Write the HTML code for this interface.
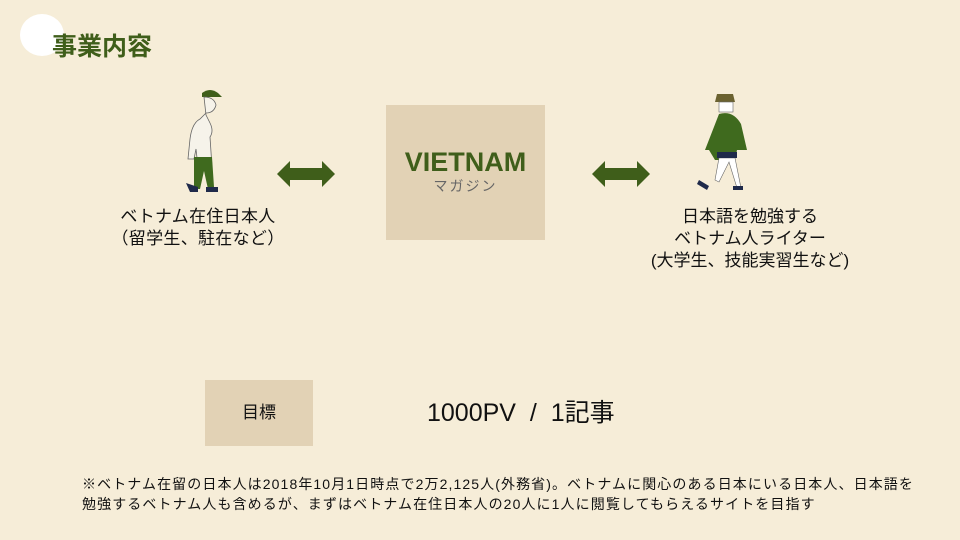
<!DOCTYPE html>
<html><head><meta charset="utf-8"><style>
body{margin:0}
#p{position:relative;width:960px;height:540px;background:#f6edd8;overflow:hidden;font-family:"Liberation Sans","Noto Sans CJK JP",sans-serif;color:#111}
.a{position:absolute}
.c{text-align:center;font-size:17px;line-height:22px}
</style></head><body><div id="p">
<div class="a" style="left:20px;top:14px;width:44px;height:42px;border-radius:50%;background:#fff"></div>
<div class="a" style="left:52px;top:31px;font-size:25px;font-weight:bold;color:#3f5e1a;line-height:32px">事業内容</div>

<svg class="a" style="left:180px;top:85px" width="50" height="115" viewBox="0 0 50 115">
<path d="M22 8 q8-6 16 0 l4 4 h-20z" fill="#3f5e1a"/>
<path d="M24 12 q10 0 12 8 q-2 8-10 8 l-6 6 q-8 4-10 20 l-2 20 h6 l2 -10 l2 18 h14 l-2-30 q4-6 0-14 l-4-8z" fill="#f6f3ea" stroke="#666" stroke-width="0.8"/>
<path d="M14 72 h18 l2 30 l-6 2 l-4-18 l-4 18 h-6z" fill="#3f6a1e"/>
<path d="M6 98 l12 4 v5 h-8z M26 102 h12 v5 h-12z" fill="#1f2a4a"/>
</svg>

<svg class="a" style="left:695px;top:88px" width="60" height="105" viewBox="0 0 60 105">
<path d="M22 6 h16 l2 8 h-20z" fill="#6b6230"/>
<rect x="24" y="14" width="14" height="10" fill="#fff" stroke="#666" stroke-width="0.6"/>
<path d="M24 26 q14-4 22 10 l6 26 h-10 l-2 10 h-20 l-6-10 h-4z" fill="#3f6a1e"/>
<path d="M24 70 h16 l6 30 h-4 l-8-26 l-10 20 l-4-2z" fill="#fff" stroke="#666" stroke-width="0.6"/>
<rect x="22" y="64" width="20" height="6" fill="#1f2a4a"/>
<path d="M4 92 l10 6 l-2 4 l-10-6z M38 98 h10 v4 h-10z" fill="#1f2a4a"/>
</svg>

<svg class="a" style="left:276px;top:160px" width="60" height="28" viewBox="0 0 60 28"><polygon points="1,14 14,1 14,8 46,8 46,1 59,14 46,27 46,20 14,20 14,27" fill="#3f5e1a"/></svg>
<svg class="a" style="left:591px;top:160px" width="60" height="28" viewBox="0 0 60 28"><polygon points="1,14 14,1 14,8 46,8 46,1 59,14 46,27 46,20 14,20 14,27" fill="#3f5e1a"/></svg>

<div class="a" style="left:386px;top:105px;width:159px;height:135px;background:#e2d2b5"></div>
<div class="a" style="left:386px;top:147px;width:159px;text-align:center;font-size:27px;font-weight:bold;color:#3f5e1a;line-height:30px">VIETNAM</div>
<div class="a" style="left:386px;top:177px;width:159px;text-align:center;font-size:14px;color:#666;line-height:18px;letter-spacing:2px">マガジン</div>

<div class="a c" style="left:98px;top:206px;width:200px;letter-spacing:0.3px">ベトナム在住日本人<br>（留学生、駐在など）</div>
<div class="a c" style="left:630px;top:206px;width:240px">日本語を勉強する<br>ベトナム人ライター<br>(大学生、技能実習生など)</div>

<div class="a" style="left:205px;top:380px;width:108px;height:66px;background:#e2d2b5;font-size:17px;line-height:66px;text-align:center">目標</div>
<div class="a" style="left:427px;top:397px;font-size:25px;line-height:32px">1000PV &nbsp;/ &nbsp;1記事</div>

<div class="a" style="left:82px;top:474px;font-size:14px;line-height:20px;white-space:nowrap;letter-spacing:1.1px">※ベトナム在留の日本人は2018年10月1日時点で2万2,125人(外務省)。ベトナムに関心のある日本にいる日本人、日本語を<br>勉強するベトナム人も含めるが、まずはベトナム在住日本人の20人に1人に閲覧してもらえるサイトを目指す</div>
</div></body></html>
